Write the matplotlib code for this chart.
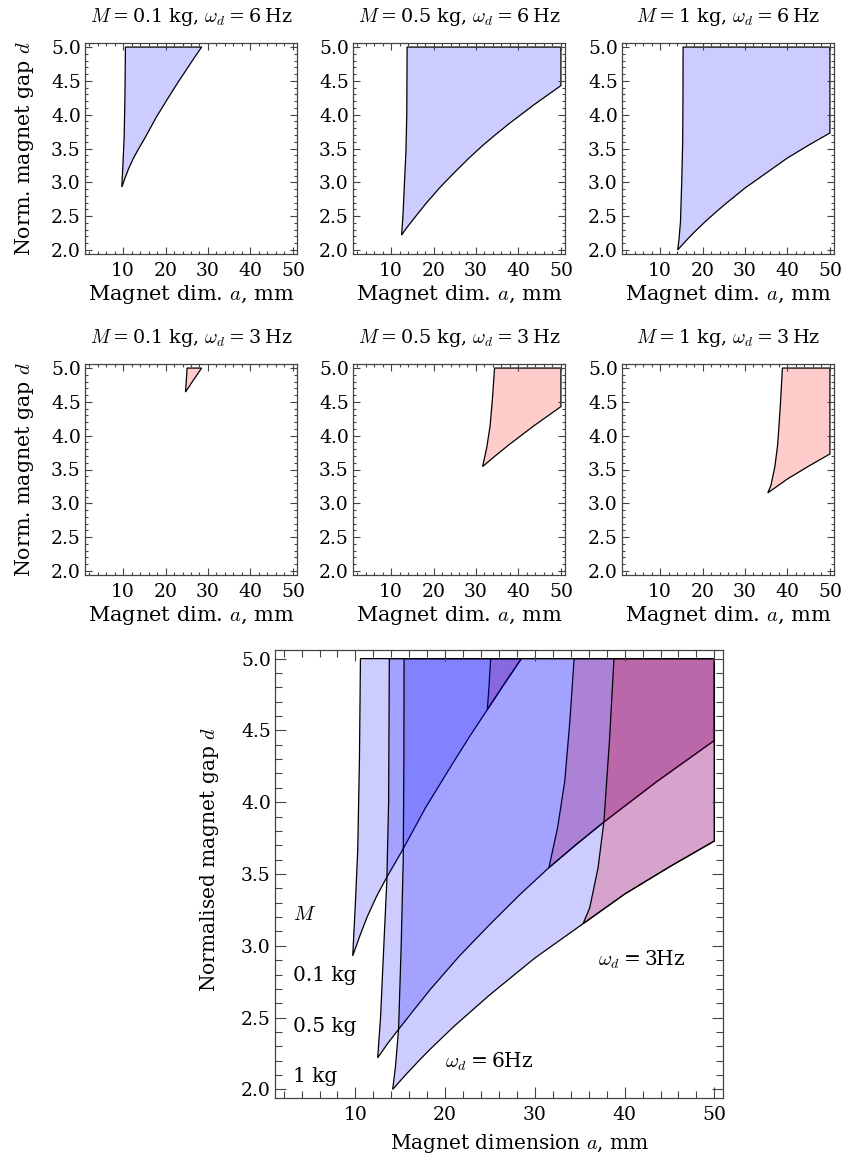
import numpy as np
import matplotlib.pyplot as plt
from matplotlib.patches import Polygon
from matplotlib.ticker import MultipleLocator, FormatStrFormatter

plt.rcParams['font.family'] = ['DejaVu Serif']
plt.rcParams['mathtext.fontset'] = 'cm'

# ====== DADOS ======
A_MAX = 50.0   # limite do dominio em a (mm)
D_MAX = 5.0    # limite do dominio em d

masses = ["0.1", "0.5", "1"]
freqs = ["6", "3"]

# borda inferior d(a) - igual para 6 Hz e 3 Hz
low_a_01 = [9.7, 10.5, 11.3, 12.4, 13.52, 15.19, 17.8, 20.74, 22.7, 24.7, 26.6, 28.5]
low_d_01 = [2.93, 3.07, 3.2, 3.35, 3.48, 3.66, 3.96, 4.26, 4.455, 4.645, 4.825, 5.0]
low_a_05 = [12.48, 13.6, 14.81, 16.5, 18.33, 21.6, 25.0, 28.3, 31.56, 34.6, 37.59, 43.5, 50.0]
low_d_05 = [2.22, 2.32, 2.418, 2.552, 2.695, 2.93, 3.15, 3.355, 3.544, 3.705, 3.857, 4.14, 4.43]
low_a_1 = [14.15, 15.5, 17.0, 18.33, 21.0, 25.0, 30.0, 35.37, 40.0, 45.0, 50.0]
low_d_1 = [2.0, 2.095, 2.195, 2.28, 2.44, 2.66, 2.915, 3.154, 3.36, 3.55, 3.73]

# borda esquerda, omega_d = 6 Hz
left6_a_01 = [9.7, 10.0, 10.26, 10.45, 10.56]
left6_d_01 = [2.93, 3.3, 3.67, 4.3, 5.0]
left6_a_05 = [12.48, 12.8, 13.15, 13.5, 13.7, 13.78]
left6_d_05 = [2.22, 2.5, 2.98, 3.45, 4.0, 5.0]
left6_a_1 = [14.15, 14.45, 14.81, 15.1, 15.33, 15.4, 15.42]
left6_d_1 = [2.0, 2.15, 2.42, 3.0, 3.6, 4.3, 5.0]

# borda esquerda, omega_d = 3 Hz
left3_a_01 = [24.7, 24.9, 25.07]
left3_d_01 = [4.645, 4.82, 5.0]
left3_a_05 = [31.56, 32.52, 33.33, 33.89, 34.37]
left3_d_05 = [3.544, 3.82, 4.147, 4.56, 5.0]
left3_a_1 = [35.37, 36.11, 37.04, 37.7, 38.33, 38.81]
left3_d_1 = [3.154, 3.265, 3.544, 3.87, 4.45, 5.0]

low = {"0.1": (low_a_01, low_d_01), "0.5": (low_a_05, low_d_05), "1": (low_a_1, low_d_1)}
left = {
    ("0.1", "6"): (left6_a_01, left6_d_01), ("0.5", "6"): (left6_a_05, left6_d_05),
    ("1", "6"): (left6_a_1, left6_d_1),
    ("0.1", "3"): (left3_a_01, left3_d_01), ("0.5", "3"): (left3_a_05, left3_d_05),
    ("1", "3"): (left3_a_1, left3_d_1),
}

FILL = {"6": (0, 0, 1, 0.2), "3": (1, 0, 0, 0.2)}
FRAME = "#444444"
FS_TICK = 13.5
FS_TIT = 13.8
TS = "\u2009"  # espaco fino


def regiao(m, f):
    la, ld = left[(m, f)]
    ba, bd = low[m]
    xs, ys = list(la), list(ld)
    inf = [(a, d) for a, d in zip(ba, bd) if a >= la[0]]
    if inf[-1][1] < D_MAX:
        xs.append(A_MAX)
        ys.append(D_MAX)
    for a, d in inf[::-1]:
        xs.append(a)
        ys.append(d)
    return np.column_stack([xs, ys])


def estilo(ax, maior, menor):
    ax.set_xlim(1.04, 50.96)
    ax.set_ylim(1.94, 5.06)
    ax.xaxis.set_major_locator(MultipleLocator(10))
    ax.xaxis.set_minor_locator(MultipleLocator(2))
    ax.yaxis.set_major_locator(MultipleLocator(0.5))
    ax.yaxis.set_minor_locator(MultipleLocator(0.1))
    ax.yaxis.set_major_formatter(FormatStrFormatter('%.1f'))
    ax.tick_params(which='both', direction='in', top=True, right=True,
                   color=FRAME, width=0.8, labelsize=FS_TICK)
    ax.tick_params(which='major', length=maior)
    ax.tick_params(which='minor', length=menor)
    ax.tick_params(axis='x', pad=6)
    ax.tick_params(axis='y', pad=3)
    for s in ax.spines.values():
        s.set_color(FRAME)
        s.set_linewidth(0.9)


fig = plt.figure(figsize=(8.49, 11.64), dpi=100)
W, H = 849.0, 1164.0

lefts = [85, 353, 622]
tops = [43, 364]
for r, f in enumerate(freqs):
    for c, m in enumerate(masses):
        ax = fig.add_axes([lefts[c] / W, (H - tops[r] - 211) / H, 212 / W, 211 / H])
        ax.add_patch(Polygon(regiao(m, f), closed=True, facecolor=FILL[f],
                             edgecolor="black", linewidth=0.9))
        estilo(ax, 4.8, 2.5)
        titulo = f"$M${TS}={TS}{m} kg, $\\omega_d${TS}={TS}{f}{TS}Hz"
        ax.text(0.5, 1 + 21 / 211, titulo, transform=ax.transAxes,
                ha="center", va="baseline", fontsize=FS_TIT)
        ax.set_xlabel("Magnet dim. $a$, mm", fontsize=15, labelpad=2)
        if c == 0:
            ax.set_ylabel("Norm. magnet gap $d$", fontsize=14.8, labelpad=11)

# ====== GRAFICO GRANDE (sobreposicao) ======
ax = fig.add_axes([275 / W, (H - 1098) / H, 448 / W, 448 / H])
for m in masses:
    for f in freqs:
        ax.add_patch(Polygon(regiao(m, f), closed=True, facecolor=FILL[f],
                             edgecolor="black", linewidth=0.9))
estilo(ax, 8, 4.8)
ax.set_xlabel("Magnet dimension $a$, mm", fontsize=14.5)
ax.set_ylabel("Normalised magnet gap $d$", fontsize=14.5)
ax.xaxis.set_label_coords(0.547, -0.075)
ax.yaxis.set_label_coords(-0.121, 0.531)

ax.text(3.1, 3.22, "$M$", fontsize=14.5, va="center", ha="left")
ax.text(3.1, 2.79, "0.1 kg", fontsize=14.5, va="center", ha="left")
ax.text(3.1, 2.44, "0.5 kg", fontsize=14.5, va="center", ha="left")
ax.text(3.1, 2.09, "1 kg", fontsize=14.5, va="center", ha="left")
ax.text(24.9, 2.19, f"$\\omega_d${TS}={TS}6Hz", fontsize=14.5, va="center", ha="center")
ax.text(41.9, 2.905, f"$\\omega_d${TS}={TS}3Hz", fontsize=14.5, va="center", ha="center")

fig.savefig("out.png", dpi=100)
